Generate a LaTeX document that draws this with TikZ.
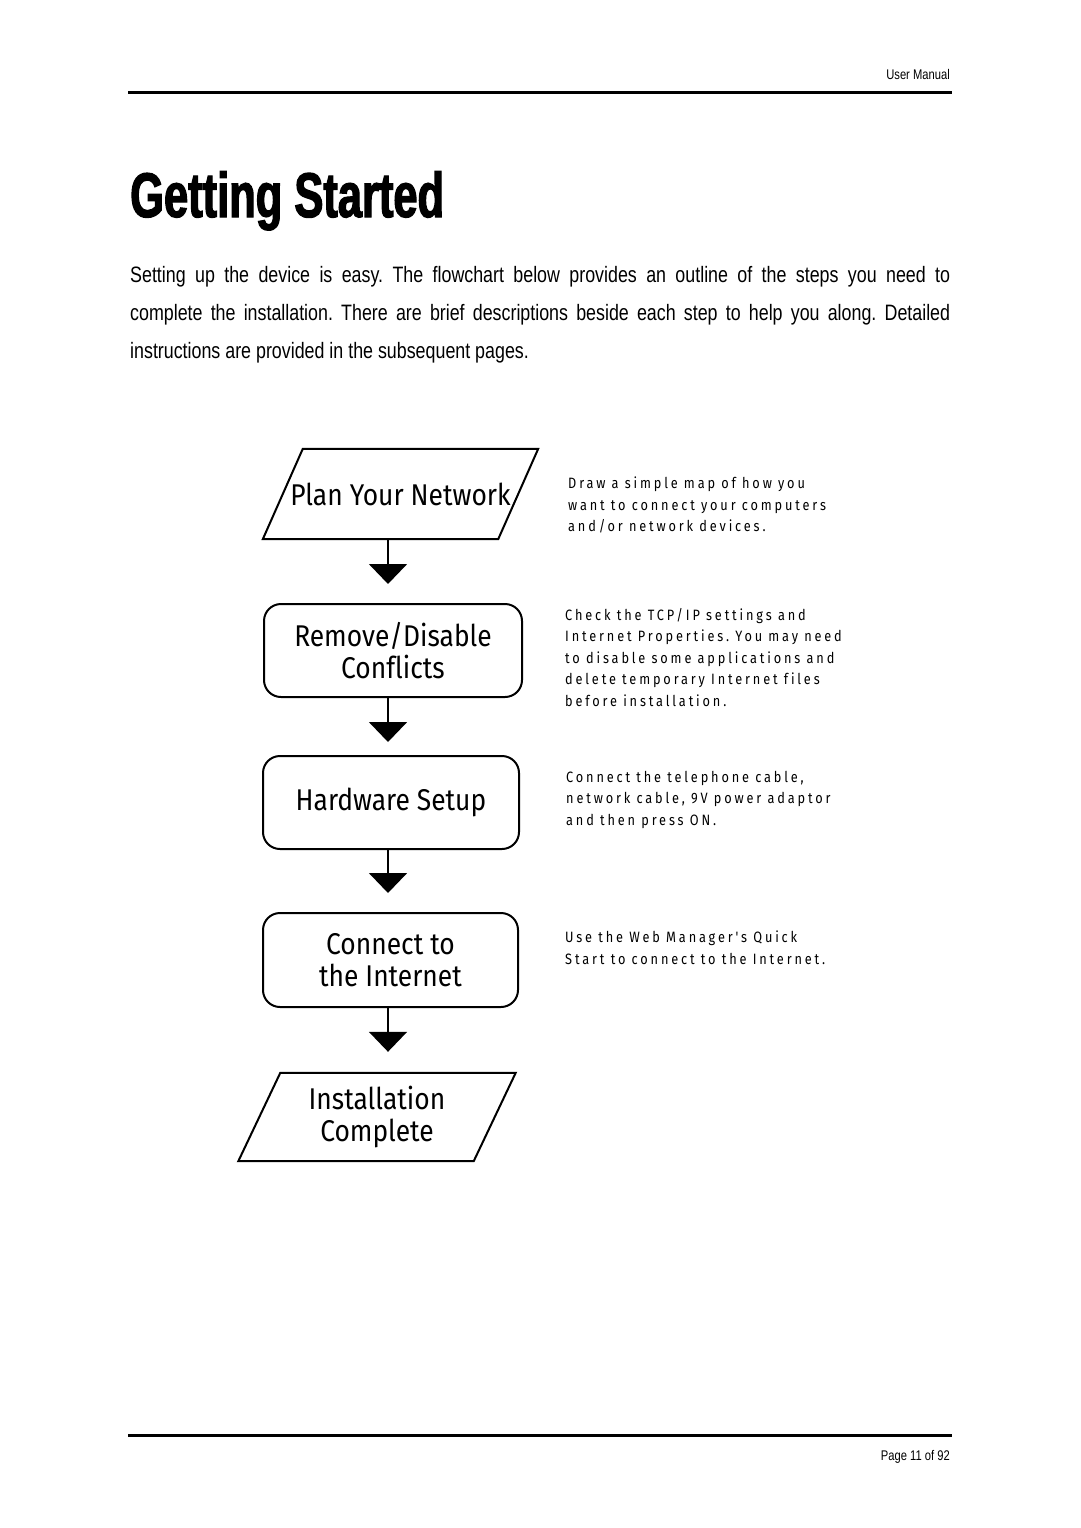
\documentclass[tikz,border=0pt]{standalone}
\usepackage{fontspec}
\setmainfont{Liberation Sans}
\usetikzlibrary{arrows.meta}
\newfontfamily\titlefont[FakeStretch=0.69,FakeBold=2]{Liberation Sans}
\newfontfamily\bodyfont[FakeStretch=0.8]{Liberation Sans}
\newfontfamily\chartfont[FakeStretch=0.88,Ligatures=NoCommon]{Fira Sans}
\newfontfamily\notefont[FakeStretch=0.85,LetterSpace=19,Ligatures=NoCommon]{Fira Sans}
\frenchspacing

\tikzset{
  stepbox/.style={draw, line width=2pt, rounded corners=17pt, minimum width=256pt,
    minimum height=93pt, align=center, font=\chartfont\fontsize{30}{32}\selectfont},
  iobox/.style={inner sep=0pt, minimum width=235pt, minimum height=90pt,
    align=center, font=\chartfont\fontsize{30}{32}\selectfont},
  slant/.style={line width=2pt, line join=miter},
  note/.style={anchor=north west, align=left, inner sep=0pt,
    font=\notefont\fontsize{15}{21.5}\selectfont},
  flow/.style={line width=2pt, -{Triangle[width=38pt,length=20pt]}, shorten >=19pt},
  rule/.style={line width=3pt},
}

\begin{document}
\begin{tikzpicture}[x=1pt,y=-1pt]
\useasboundingbox (0,0) rectangle (1080,1528);

% page header and title
\node[anchor=base east, inner sep=0pt, font=\bodyfont\fontsize{14}{14}\selectfont] (hdr) at (950,79) {User Manual};
\draw[rule] (128,92) -- (952,92);
\node[anchor=base west, inner sep=0pt, font=\titlefont\bfseries\fontsize{63}{63}\selectfont] (title) at (130,217) {Getting Started};
\node[anchor=north west, inner sep=0pt, text width=820pt, align=justify,
  font=\bodyfont\fontsize{22.3}{38}\selectfont] (intro) at (130,266)
  {Setting up the device is easy. The flowchart below provides an outline of the steps you need to\linebreak
   complete the installation. There are brief descriptions beside each step to help you along. Detailed\linebreak
   instructions are provided in the subsequent pages.};

% flowchart
\coordinate (axis) at (388,0);
\node[iobox] (plan) at (400.5,494) {Plan Your Network};
\draw[slant] ([xshift=20pt]plan.north west) -- ([xshift=20pt]plan.north east)
  -- ([xshift=-20pt]plan.south east) -- ([xshift=-20pt]plan.south west) -- cycle;
\node[stepbox, minimum width=258pt] (remove) at (393,650.5) {Remove/Disable\\Conflicts};
\node[stepbox] (hardware) at (391,802.5) {Hardware Setup};
\node[stepbox, minimum width=255pt, minimum height=94pt] (connect) at (390.5,960) {Connect to\\the Internet};
\node[iobox, minimum height=88pt] (done) at (377,1117) {Installation\\Complete};
\draw[slant] ([xshift=21pt]done.north west) -- ([xshift=21pt]done.north east)
  -- ([xshift=-21pt]done.south east) -- ([xshift=-21pt]done.south west) -- cycle;

\draw[flow] (plan.south -| axis) -- (remove.north -| axis);
\draw[flow, shorten >=13pt] (remove.south -| axis) -- (hardware.north -| axis);
\draw[flow] (hardware.south -| axis) -- (connect.north -| axis);
\draw[flow, shorten >=21pt] (connect.south -| axis) -- (done.north -| axis);

% notes beside each step
\node[note] (n1) at (568,477) {Draw a simple map of how you\\want to connect your computers\\and/or network devices.};
\node[note] (n2) at (565,608) {Check the TCP/IP settings and\\Internet Properties. You may need\\to disable some applications and\\delete temporary Internet files\\before installation.};
\node[note] (n3) at (566,771) {Connect the telephone cable,\\network cable, 9V power adaptor\\and then press ON.};
\node[note] (n4) at (565,931) {Use the Web Manager's Quick\\Start to connect to the Internet.};

% page footer
\draw[rule] (128,1435) -- (952,1435);
\node[anchor=base east, inner sep=0pt, font=\bodyfont\fontsize{14}{14}\selectfont] (pg) at (950,1460) {Page 11 of 92};
\end{tikzpicture}
\end{document}
